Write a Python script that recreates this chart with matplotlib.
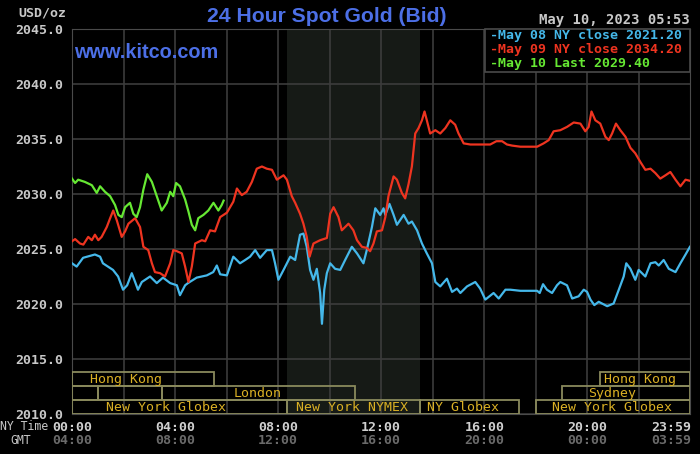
import matplotlib.pyplot as plt
from matplotlib.patches import Rectangle
from matplotlib.transforms import blended_transform_factory

# hours after midnight NY time, prices in USD/oz
may08_hours = [0, 0.18, 0.43, 0.89, 1.09, 1.20, 1.59, 1.79, 1.98, 2.14, 2.32, 2.45, 2.56, 2.71,
               3.03, 3.29, 3.53, 3.81, 4.07, 4.19, 4.39, 4.50, 4.84, 5.23, 5.48, 5.62, 5.75, 6.01,
               6.26, 6.52, 6.72, 6.91, 7.11, 7.30, 7.56, 7.76, 7.88, 8.01, 8.21, 8.34, 8.47, 8.66,
               8.85, 8.98, 9.11, 9.24, 9.37, 9.50, 9.63, 9.70, 9.79, 9.89, 10.02, 10.21, 10.41,
               10.60, 10.86, 11.06, 11.31, 11.44, 11.64, 11.77, 11.96, 12.09, 12.16, 12.32, 12.48,
               12.61, 12.87, 13.06, 13.19, 13.39, 13.58, 13.77, 13.97, 14.10, 14.29, 14.55, 14.75,
               14.94, 15.07, 15.33, 15.65, 15.84, 16.04, 16.36, 16.56, 16.82, 17.01, 17.40, 18.05,
               18.15, 18.28, 18.43, 18.63, 18.82, 18.95, 19.21, 19.41, 19.66, 19.86, 19.99, 20.12,
               20.27, 20.44, 20.77, 21.02, 21.22, 21.41, 21.51, 21.67, 21.86, 21.99, 22.25, 22.45,
               22.64, 22.77, 22.96, 23.16, 23.42, 23.61, 23.81, 23.98]
may08_price = [2023.7, 2023.4, 2024.2, 2024.5, 2024.3, 2023.7, 2023.1, 2022.5, 2021.3, 2021.7,
               2022.8, 2022.0, 2021.3, 2022.0, 2022.5, 2021.9, 2022.4, 2021.9, 2021.7, 2020.8,
               2021.7, 2021.9, 2022.4, 2022.6, 2022.9, 2023.5, 2022.7, 2022.6, 2024.3, 2023.7,
               2024.0, 2024.3, 2024.9, 2024.2, 2024.9, 2024.9, 2023.7, 2022.2, 2023.1, 2023.7,
               2024.3, 2024.0, 2026.3, 2026.4, 2025.2, 2023.1, 2022.2, 2023.2, 2021.0, 2018.2,
               2021.3, 2022.8, 2023.7, 2023.2, 2023.1, 2024.0, 2025.2, 2024.6, 2023.7, 2024.9,
               2027.0, 2028.7, 2028.1, 2028.7, 2028.1, 2029.1, 2028.1, 2027.2, 2028.1, 2027.3,
               2027.5, 2026.7, 2025.5, 2024.6, 2023.7, 2022.0, 2021.6, 2022.3, 2021.1, 2021.4,
               2021.0, 2021.6, 2022.0, 2021.4, 2020.4, 2021.0, 2020.5, 2021.3, 2021.3, 2021.2,
               2021.2, 2021.0, 2021.8, 2021.3, 2021.0, 2021.7, 2022.0, 2021.7, 2020.5, 2020.7,
               2021.3, 2021.1, 2020.4, 2019.9, 2020.2, 2019.8, 2020.05, 2021.3, 2022.5, 2023.7,
               2023.2, 2022.2, 2023.1, 2022.5, 2023.7, 2023.8, 2023.5, 2024.0, 2023.2, 2022.9,
               2023.7, 2024.5, 2025.2]

may09_hours = [0, 0.12, 0.31, 0.44, 0.63, 0.77, 0.89, 1.02, 1.15, 1.35, 1.48, 1.60, 1.74, 1.93,
               2.06, 2.19, 2.45, 2.64, 2.77, 2.96, 3.10, 3.22, 3.42, 3.61, 3.81, 3.93, 4.07, 4.26,
               4.39, 4.52, 4.65, 4.78, 5.04, 5.17, 5.36, 5.55, 5.75, 6.01, 6.26, 6.40, 6.59, 6.78,
               6.98, 7.17, 7.37, 7.56, 7.76, 7.95, 8.21, 8.34, 8.53, 8.66, 8.85, 8.98, 9.11, 9.22,
               9.37, 9.63, 9.89, 10.02, 10.15, 10.34, 10.47, 10.60, 10.73, 10.92, 11.06, 11.25,
               11.44, 11.57, 11.70, 11.83, 12.03, 12.16, 12.28, 12.48, 12.61, 12.80, 12.93, 13.06,
               13.19, 13.32, 13.45, 13.58, 13.68, 13.77, 13.90, 14.10, 14.29, 14.49, 14.68, 14.87,
               15.00, 15.20, 15.46, 15.72, 15.97, 16.23, 16.47, 16.69, 16.88, 17.08, 17.40, 18.05,
               18.30, 18.50, 18.69, 18.95, 19.21, 19.47, 19.73, 19.92, 20.05, 20.16, 20.31, 20.50,
               20.70, 20.83, 20.96, 21.11, 21.28, 21.48, 21.67, 21.86, 22.06, 22.25, 22.45, 22.64,
               22.83, 23.03, 23.22, 23.42, 23.61, 23.81, 23.98]
may09_price = [2025.7, 2025.9, 2025.5, 2025.4, 2026.1, 2025.8, 2026.3, 2025.8, 2026.1, 2027.0,
               2027.8, 2028.5, 2027.6, 2026.1, 2026.6, 2027.3, 2027.8, 2027.0, 2025.2, 2024.9,
               2023.7, 2022.9, 2022.8, 2022.5, 2023.7, 2024.9, 2024.8, 2024.6, 2023.4, 2022.0,
               2023.4, 2025.5, 2025.8, 2025.7, 2026.7, 2026.6, 2027.9, 2028.3, 2029.3, 2030.5,
               2029.9, 2030.2, 2031.1, 2032.3, 2032.5, 2032.3, 2032.2, 2031.3, 2031.7, 2031.3,
               2029.8, 2029.2, 2028.2, 2027.3, 2026.1, 2024.3, 2025.5, 2025.8, 2026.0, 2028.2,
               2028.8, 2027.9, 2026.7, 2027.0, 2027.3, 2026.7, 2025.8, 2025.2, 2025.1, 2024.8,
               2025.5, 2026.6, 2026.7, 2027.9, 2029.8, 2031.6, 2031.3, 2030.1, 2029.6, 2030.9,
               2032.5, 2035.5, 2036.0, 2036.7, 2037.5, 2036.7, 2035.5, 2035.8, 2035.5, 2036.0,
               2036.7, 2036.3, 2035.5, 2034.6, 2034.5, 2034.5, 2034.5, 2034.5, 2034.8, 2034.8,
               2034.5, 2034.4, 2034.3, 2034.3, 2034.6, 2034.9, 2035.7, 2035.8, 2036.1, 2036.5,
               2036.4, 2035.7, 2036.1, 2037.5, 2036.7, 2036.4, 2035.2, 2034.9, 2035.5, 2036.4,
               2035.8, 2035.2, 2034.2, 2033.7, 2032.9, 2032.2, 2032.3, 2031.9, 2031.4, 2031.7,
               2032.0, 2031.3, 2030.7, 2031.3, 2031.2]

may10_hours = [0, 0.12, 0.24, 0.50, 0.77, 0.96, 1.09, 1.28, 1.48, 1.67, 1.80, 1.93, 2.06, 2.25,
               2.38, 2.51, 2.64, 2.77, 2.92, 3.10, 3.29, 3.48, 3.68, 3.81, 3.93, 4.04, 4.19, 4.39,
               4.52, 4.65, 4.78, 4.90, 5.10, 5.29, 5.49, 5.68, 5.81, 5.883]
may10_price = [2031.4, 2031.0, 2031.3, 2031.1, 2030.8, 2030.1, 2030.7, 2030.2, 2029.8, 2029.0,
               2028.1, 2027.9, 2028.8, 2029.2, 2028.2, 2027.9, 2028.8, 2030.4, 2031.8, 2031.1,
               2029.8, 2028.5, 2029.2, 2030.2, 2029.8, 2031.0, 2030.7, 2029.5, 2028.4, 2027.2,
               2026.7, 2027.8, 2028.1, 2028.5, 2029.2, 2028.5, 2029.0, 2029.4]

legend_labels = ["May 08 NY close 2021.20", "May 09 NY close 2034.20", "May 10 Last 2029.40"]

# trading sessions: (row, start hour, end hour, label, label hour)
sessions = [
    (2, 0, 5.5, "Hong Kong", 2.1),
    (2, 20.5, 23.98, "Hong Kong", 22.06),
    (1, 0, 1.0, "", 0),
    (1, 1.0, 3.5, "", 0),
    (1, 3.5, 11.0, "London", 7.2),
    (1, 19.0, 23.98, "Sydney", 20.97),
    (0, 0, 8.33, "New York Globex", 3.63),
    (0, 8.33, 13.5, "New York NYMEX", 10.87),
    (0, 13.5, 17.33, "NY Globex", 15.18),
    (0, 18.0, 23.98, "New York Globex", 20.97),
]

ny_ticks = [0, 4, 8, 12, 16, 20, 23.983]
ny_labels = ["00:00", "04:00", "08:00", "12:00", "16:00", "20:00", "23:59"]
gmt_labels = ["04:00", "08:00", "12:00", "16:00", "20:00", "00:00", "03:59"]

mono = "DejaVu Sans Mono"
blue, red, green = "#45b8ea", "#ee3420", "#66e833"

fig = plt.figure(figsize=(7, 4.54), dpi=100, facecolor="black")
ax = fig.add_axes([72 / 700, 1 - 414 / 454, 618 / 700, 385 / 454], facecolor="black")
ax.set_xlim(0, 23.983)
ax.set_ylim(2010, 2045)
ax.set_axisbelow(True)

ax.axvspan(8.33, 13.5, color="#161a16", zorder=0.2, lw=0)
ax.set_xticks(range(0, 24, 2))
ax.set_yticks(range(2010, 2046, 5))
ax.grid(True, color="#3c3c3c", lw=1.2)
for s in ax.spines.values():
    s.set_color("#4a4a4a")
ax.tick_params(length=0, labelbottom=False)
ax.set_yticklabels([f"{v:.1f}" for v in range(2010, 2046, 5)],
                   family=mono, fontsize=9.5, fontweight="bold", color="#c8c8c8")
ax.tick_params(axis="y", pad=6)

ax.plot(may08_hours, may08_price, color=blue, lw=1.6, zorder=3)
ax.plot(may09_hours, may09_price, color=red, lw=1.6, zorder=3)
ax.plot(may10_hours, may10_price, color=green, lw=1.6, zorder=3)

# session boxes
row_h = 1.27
for row, x0, x1, label, xl in sessions:
    y0 = 2010 + row * row_h
    ax.add_patch(Rectangle((x0, y0), x1 - x0, row_h, fill=False, ec="#8a8a5c", lw=1.3, zorder=4))
    if label:
        ax.text(xl, y0 + row_h / 2, label, ha="center", va="center", family=mono,
                fontsize=9.5, color="#dab024", zorder=5)

# x labels (NY time and GMT)
trans = blended_transform_factory(ax.transData, ax.transAxes)
for h, ny, gmt in zip(ny_ticks, ny_labels, gmt_labels):
    ha = "right" if h > 23 else "center"
    xh = h + 0.05 if h > 23 else h
    ax.text(xh, -0.034, ny, transform=trans, ha=ha, va="center", family=mono,
            fontsize=9.5, fontweight="bold", color="#d0d0d0")
    ax.text(xh, -0.07, gmt, transform=trans, ha=ha, va="center", family=mono,
            fontsize=9.5, fontweight="bold", color="#6a6a6a")
fig.text(0 / 700, 1 - 427 / 454, "NY Time", ha="left", va="center", family=mono,
         fontsize=8.3, color="#c8c8c8")
fig.text(10 / 700, 1 - 441 / 454, "GMT", ha="left", va="center", family=mono,
         fontsize=8.3, color="#c8c8c8")

# titles
fig.text(66 / 700, 1 - 13 / 454, "USD/oz", ha="right", va="center", family=mono,
         fontsize=9.5, fontweight="bold", color="#c8c8c8")
fig.text(327 / 700, 1 - 16 / 454, "24 Hour Spot Gold (Bid)", ha="center", va="center",
         family="Liberation Sans", fontsize=15.2, fontweight="bold", color="#4c6fe6")
fig.text(74 / 700, 1 - 52 / 454, "www.kitco.com", ha="left", va="center",
         family="Liberation Sans", fontsize=14.3, fontweight="bold", color="#4c6fe6")
fig.text(690 / 700, 1 - 20 / 454, "May 10, 2023 05:53", ha="right", va="center", family=mono,
         fontsize=10, fontweight="bold", color="#c8c8c8")

# legend box
lx0, lx1, ly0, ly1 = 485, 690, 29, 72
fig.patches.append(Rectangle((lx0 / 700, 1 - ly1 / 454), (lx1 - lx0) / 700, (ly1 - ly0) / 454,
                             transform=fig.transFigure, fc="black", ec="#4a4a4a", lw=1.2, zorder=6))
for i, (lab, col) in enumerate(zip(legend_labels, [blue, red, green])):
    fig.text(490 / 700, 1 - (36 + 14 * i) / 454, "-" + lab, ha="left", va="center", family=mono,
             fontsize=9.5, fontweight="bold", color=col, zorder=7)

fig.savefig("out.png", dpi=100, facecolor="black")
